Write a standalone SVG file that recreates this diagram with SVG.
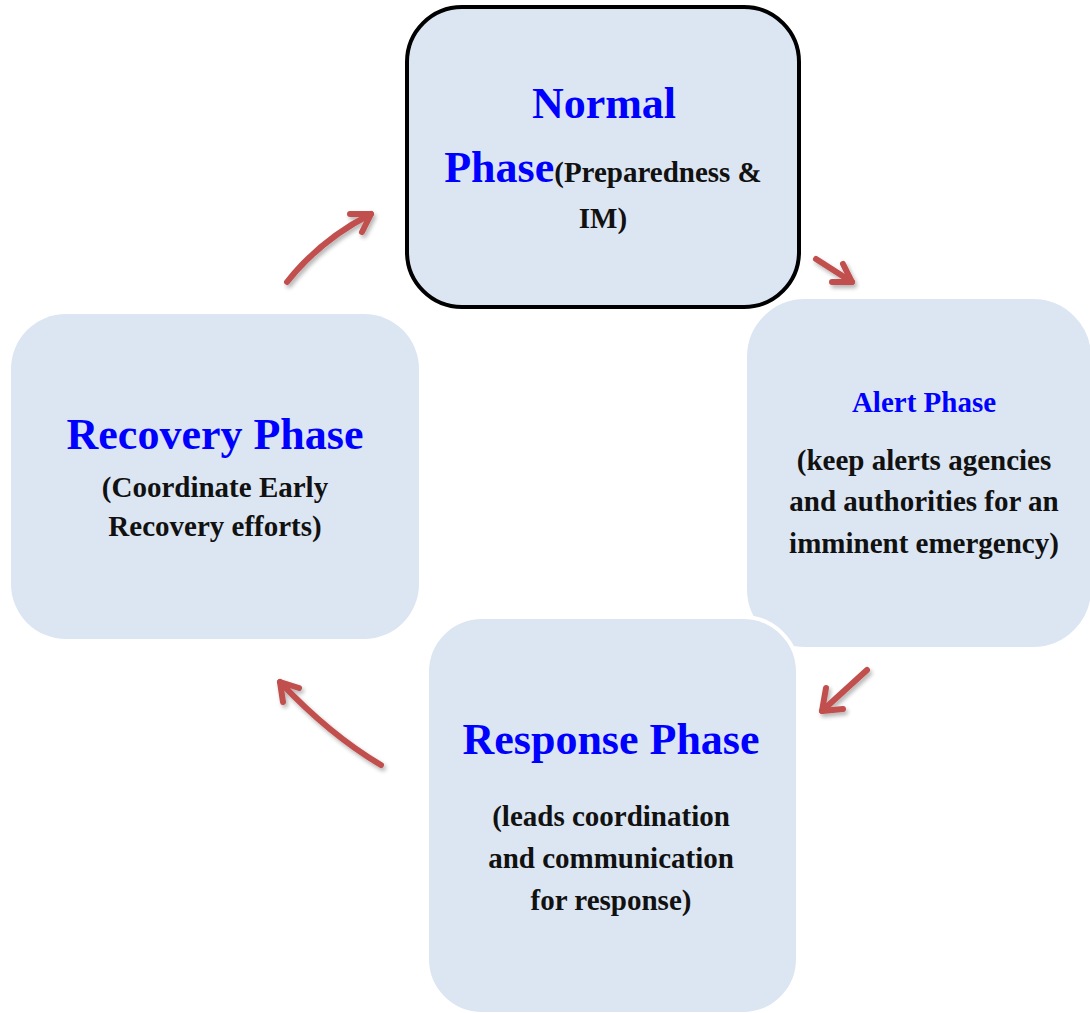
<svg xmlns="http://www.w3.org/2000/svg" width="1090" height="1013" viewBox="0 0 1090 1013">
<defs>
<style>
.box{fill:#dce6f2}
.t{font-family:"Liberation Serif","Times New Roman",serif;font-weight:bold;text-anchor:middle}
.big{font-size:44px;fill:#0000ff}
.mid{font-size:29px;fill:#0000ff}
.sm{font-size:29px;fill:#111}
.arr{fill:none;stroke:#c0504d;stroke-width:6;stroke-linecap:round;stroke-linejoin:round}
</style>
<filter id="sh" x="-20%" y="-20%" width="140%" height="140%">
<feGaussianBlur in="SourceAlpha" stdDeviation="2"/>
<feOffset dx="2" dy="3" result="b"/>
<feComponentTransfer><feFuncA type="linear" slope="0.3"/></feComponentTransfer>
<feMerge><feMergeNode/><feMergeNode in="SourceGraphic"/></feMerge>
</filter>
</defs>
<rect width="1090" height="1013" fill="#fff"/>
<g id="recovery">
<rect class="box" x="11" y="314" width="408" height="325" rx="55"/>
<text class="t big" x="215" y="449">Recovery Phase</text>
<text class="t sm" x="215" y="497">(Coordinate Early</text>
<text class="t sm" x="215" y="536">Recovery efforts)</text>
</g>
<g id="normal">
<rect class="box" x="407" y="7" width="392" height="300" rx="55" stroke="#000" stroke-width="4"/>
<text class="t big" x="604" y="118">Normal</text>
<text class="t" x="603" y="182"><tspan class="big">Phase</tspan><tspan class="sm">(Preparedness &amp;</tspan></text>
<text class="t sm" x="603" y="228">IM)</text>
</g>
<g id="alert">
<rect class="box" x="745" y="297" width="348" height="352" rx="60" stroke="#fff" stroke-width="4"/>
<text class="t mid" x="924" y="412">Alert Phase</text>
<text class="t sm" x="924" y="470">(keep alerts agencies</text>
<text class="t sm" x="924" y="511">and authorities for an</text>
<text class="t sm" x="924" y="553">imminent emergency)</text>
</g>
<g id="response">
<rect class="box" x="427" y="617" width="371" height="397" rx="55" stroke="#fff" stroke-width="4"/>
<text class="t big" x="611" y="754">Response Phase</text>
<text class="t sm" x="611" y="826">(leads coordination</text>
<text class="t sm" x="611" y="868">and communication</text>
<text class="t sm" x="611" y="910">for response)</text>
</g>
<g id="connectors" filter="url(#sh)">
<path class="arr" d="M287,282 Q320,240 371,214"/>
<path class="arr" d="M350,214 L371,214 L362,232"/>
<path class="arr" d="M816,259 L852,282"/>
<path class="arr" d="M843,264 L852,282 L832,282"/>
<path class="arr" d="M867,670 L822,711"/>
<path class="arr" d="M826,688 L822,711 L843,709"/>
<path class="arr" d="M381,765 Q330,735 280,682"/>
<path class="arr" d="M299,688 L280,682 L283,702"/>
</g>
</svg>
